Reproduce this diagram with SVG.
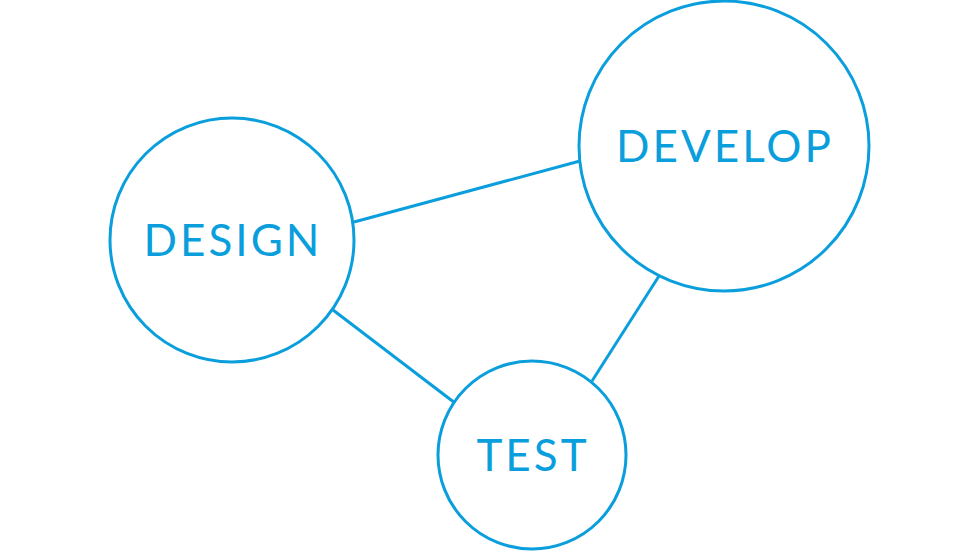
<svg xmlns="http://www.w3.org/2000/svg" width="980" height="552" viewBox="0 0 980 552">
<style>
.c{fill:none;stroke:#0a9fdc;stroke-width:3}
.l{stroke:#0a9fdc;stroke-width:3}
text{font-family:Lato,"Noto Sans",sans-serif;font-size:44px;fill:#0a9fdc;text-anchor:middle;letter-spacing:3px}
</style>
<rect width="980" height="552" fill="#fff"/>
<g id="connectors">
<line class="l" x1="354" y1="222" x2="580" y2="161"/>
<line class="l" x1="333" y1="310" x2="455" y2="403"/>
<line class="l" x1="659" y1="276" x2="592" y2="381"/>
</g>
<g id="design"><circle class="c" cx="232" cy="240" r="122"/><text x="233" y="256">DESIGN</text></g>
<g id="develop"><circle class="c" cx="724" cy="146" r="145"/><text x="725" y="162">DEVELOP</text></g>
<g id="test"><circle class="c" cx="532" cy="455" r="94"/><text x="533" y="471">TEST</text></g>
</svg>
